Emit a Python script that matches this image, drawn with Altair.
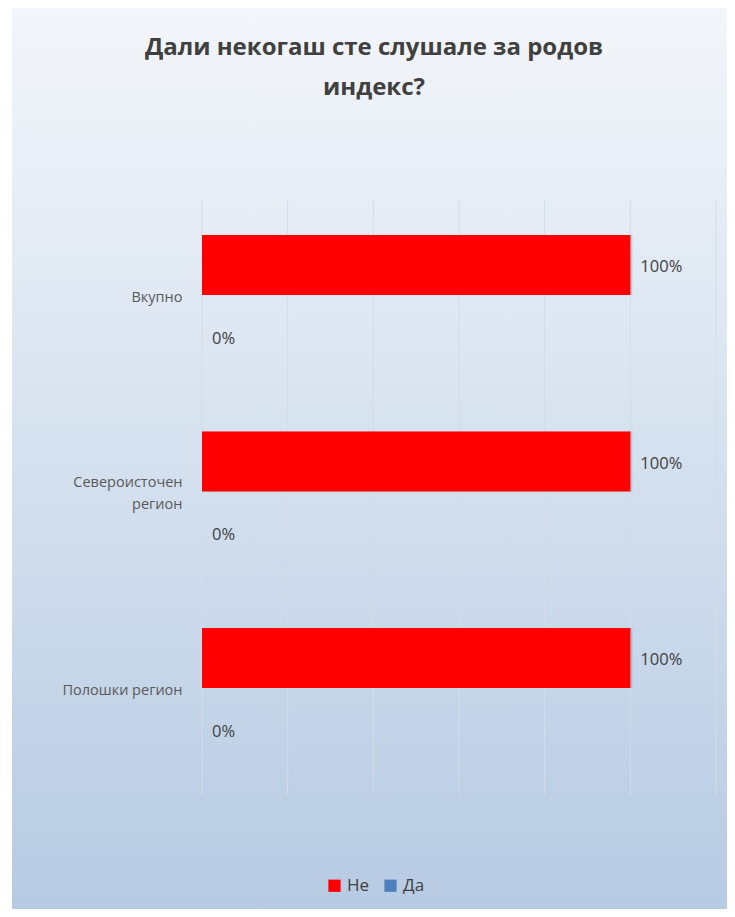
import altair as alt
import pandas as pd

categories = ["Вкупно", "Североисточен регион", "Полошки регион"]
answers = ["Не", "Да"]
ne_values = [1.0, 1.0, 1.0]
da_values = [0.0, 0.0, 0.0]
colors = ["#ff0000", "#4f81bd"]
grid_values = [0, 0.2, 0.4, 0.6, 0.8, 1.0, 1.2]
title_lines = ["Дали некогаш сте слушале за родов", "индекс?"]

rows = []
for c, n, d in zip(categories, ne_values, da_values):
    rows.append({"cat": c, "ans": "Не", "val": n})
    rows.append({"cat": c, "ans": "Да", "val": d})
df = pd.DataFrame(rows)
grid_df = pd.DataFrame({"g": grid_values})

FONT = "Open Sans"

bg = alt.Chart(alt.Data(values=[{}])).mark_rect(
    color=alt.Gradient(
        gradient="linear", x1=0, y1=0, x2=0, y2=1,
        stops=[alt.GradientStop(color="#f3f6fa", offset=0),
               alt.GradientStop(color="#dbe5f1", offset=0.4),
               alt.GradientStop(color="#b6cae2", offset=1)]
    )
).encode(
    x=alt.value(-190), x2=alt.value(540),
    y=alt.value(-194), y2=alt.value(720)
)

title = alt.Chart(alt.Data(values=[{"t": title_lines}])).mark_text(
    font=FONT, fontSize=24, fontWeight="bold", color="#404040",
    align="center", baseline="top", lineHeight=40
).encode(text="t:N", x=alt.value(172), y=alt.value(-164))

x_scale = alt.Scale(domain=[0, 1.2], nice=False)

grid = alt.Chart(grid_df).mark_rule(color="#d3dce8", strokeWidth=1).encode(
    x=alt.X("g:Q", scale=x_scale, axis=None)
)

y_enc = alt.Y("cat:N", sort=categories, title=None,
              scale=alt.Scale(paddingInner=0.267, paddingOuter=0.148),
              axis=alt.Axis(
                  labelExpr="datum.label == 'Североисточен регион' ? ['Североисточен', 'регион'] : datum.label",
                  labelOffset={"condition": {"test": "datum.value == 'Североисточен регион'", "value": -15},
                               "value": -3},
                  labelFont=FONT, labelFontSize=14.5, labelColor="#595959",
                  labelPadding=20, ticks=False, domain=False, grid=False,
                  labelLineHeight=22, zindex=1))
x_enc = alt.X("val:Q", title=None, scale=x_scale, axis=None)

base = alt.Chart(df).encode(
    y=y_enc,
    yOffset=alt.YOffset("ans:N", sort=answers,
                        scale=alt.Scale(paddingInner=0, paddingOuter=0)),
)

shadow = base.mark_bar(size=60, color="#40506a", opacity=0.22,
                       xOffset=2, yOffset=3).encode(x=x_enc)

bars = base.mark_bar(size=60).encode(
    x=x_enc,
    color=alt.Color("ans:N", sort=answers,
                    scale=alt.Scale(domain=answers, range=colors),
                    legend=alt.Legend(
                        title=None, orient="none", direction="horizontal",
                        legendX=124, legendY=677,
                        symbolType="square", symbolSize=150,
                        symbolStrokeWidth=0,
                        labelFont=FONT, labelFontSize=17, labelColor="#404040",
                        columnPadding=12, labelOffset=4)),
)

labels = base.mark_text(align="left", dx=10, dy=2, font=FONT, fontSize=16.5,
                        color="#404040").encode(
    x="val:Q",
    text=alt.Text("val:Q", format=".0%"),
)

chart = alt.layer(bg, title, grid, shadow, bars, labels).properties(
    width=514, height=595,
    autosize=alt.AutoSizeParams(type="none"),
    padding={"left": 194, "top": 192, "right": 11, "bottom": 114},
).configure_view(stroke=None)

chart.save("out.html", embed_options={"renderer": "svg", "actions": False})
